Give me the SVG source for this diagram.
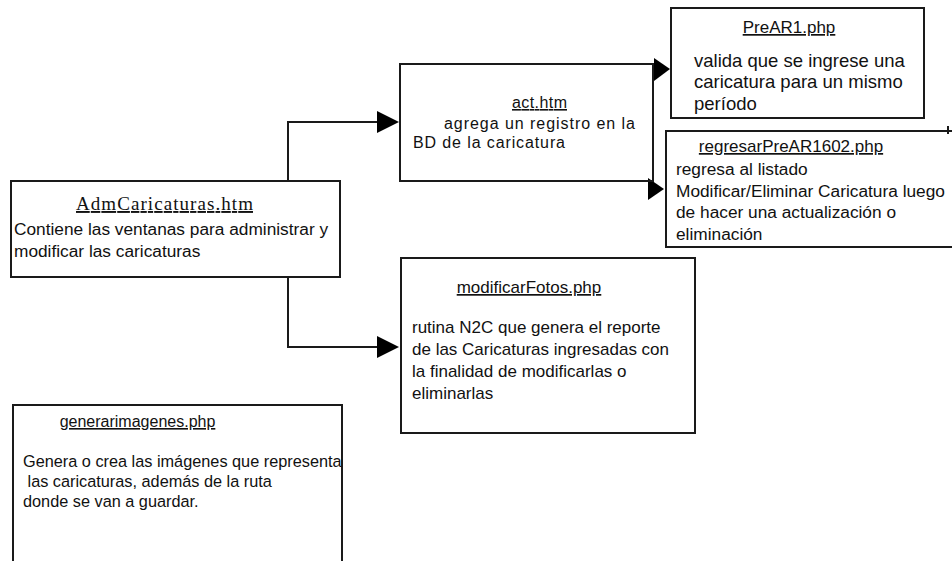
<svg xmlns="http://www.w3.org/2000/svg" width="952" height="561" viewBox="0 0 952 561">
<style>
.box{fill:none;stroke:#1a1a1a;stroke-width:2}
.ln{fill:none;stroke:#1a1a1a;stroke-width:2}
.ah{fill:#000;stroke:none}
text{font-family:"Liberation Sans",Arial,sans-serif;fill:#111}
.t{font-size:17px}
.b{font-size:17.3px}
.u{text-decoration:underline}
.serif{font-family:"Liberation Serif","Times New Roman",serif;font-size:19px}
</style>
<rect width="952" height="561" fill="#fff"/>
<g id="connectors">
  <polyline class="ln" points="288,181 288,122 377,122"/>
  <polygon class="ah" points="377,111 399,122 377,133"/>
  <polyline class="ln" points="288,277 288,347 377,347"/>
  <polygon class="ah" points="377,336 399,347 377,358"/>
  <line class="ln" x1="653" y1="64" x2="655" y2="64"/>
  <polygon class="ah" points="654,58 670,69 654,81"/>
  <line class="ln" x1="653" y1="181" x2="649" y2="181"/>
  <polygon class="ah" points="648,178 664,189 648,200"/>
</g>
<g id="AdmCaricaturas">
  <rect class="box" x="11" y="181" width="329" height="96"/>
  <text class="serif u" x="164.5" y="210" text-anchor="middle" textLength="177" lengthAdjust="spacing">AdmCaricaturas.htm</text>
  <text class="b" x="14" y="235">Contiene las ventanas para administrar y</text>
  <text class="b" x="14" y="257">modificar las caricaturas</text>
</g>
<g id="act">
  <rect class="box" x="400" y="64" width="253" height="117"/>
  <text class="u" x="539.5" y="108" font-size="16" text-anchor="middle" textLength="55" lengthAdjust="spacing">act.htm</text>
  <text x="444" y="129" font-size="16" textLength="191" lengthAdjust="spacing">agrega un registro en la</text>
  <text x="413" y="148" font-size="16" textLength="152" lengthAdjust="spacing">BD de la caricatura</text>
</g>
<g id="PreAR1">
  <rect class="box" x="671" y="8" width="253" height="110"/>
  <line class="ln" x1="671" y1="95" x2="671" y2="118" stroke-width="3.5"/>
  <text class="t u" x="789" y="33" text-anchor="middle">PreAR1.php</text>
  <text x="694" y="67" font-size="18.5">valida que se ingrese una</text>
  <text x="694" y="88" font-size="18.5">caricatura para un mismo</text>
  <text x="694" y="110" font-size="18.5">período</text>
</g>
<g id="regresarPreAR1602">
  <polyline class="box" points="952,131 666,131 666,247 952,247"/>
  <line class="ln" x1="948" y1="126" x2="948" y2="134"/>
  <text class="t u" x="791" y="152" text-anchor="middle" font-size="17.5">regresarPreAR1602.php</text>
  <text class="b" x="676" y="175">regresa al listado</text>
  <text class="b" x="676" y="197">Modificar/Eliminar Caricatura luego</text>
  <text class="b" x="676" y="218">de hacer una actualización o</text>
  <text class="b" x="676" y="240">eliminación</text>
</g>
<g id="modificarFotos">
  <rect class="box" x="401" y="258" width="294" height="175"/>
  <text class="t u" x="529" y="293" text-anchor="middle" font-size="17.4">modificarFotos.php</text>
  <text class="t" x="412" y="333">rutina N2C que genera el reporte</text>
  <text class="t" x="412" y="355">de las Caricaturas ingresadas con</text>
  <text class="t" x="412" y="377">la finalidad de modificarlas o</text>
  <text class="t" x="412" y="399">eliminarlas</text>
</g>
<g id="generarimagenes">
  <polyline class="box" points="13,561 13,405 342,405 342,561"/>
  <text class="u" x="137.5" y="427" font-size="16" text-anchor="middle">generarimagenes.php</text>
  <text x="23" y="467" font-size="16.3">Genera o crea las imágenes que representa</text>
  <text x="23" y="487" font-size="16.3" xml:space="preserve"> las caricaturas, además de la ruta</text>
  <text x="23" y="507" font-size="16.3">donde se van a guardar.</text>
</g>
</svg>
